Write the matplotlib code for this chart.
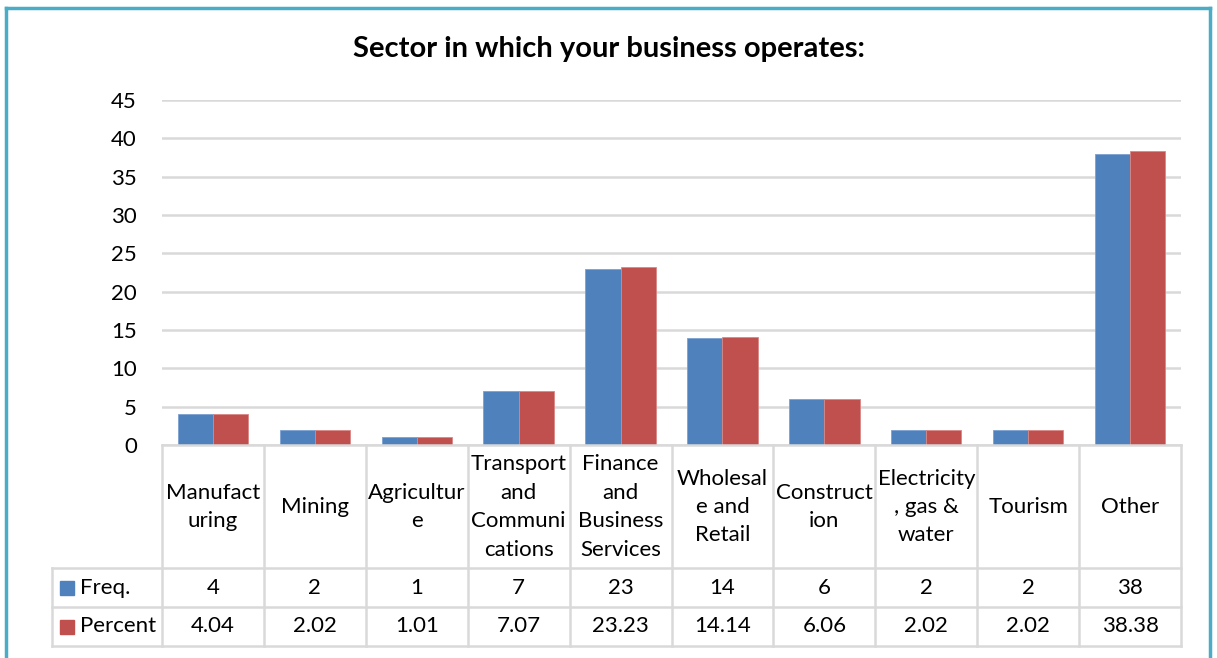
import matplotlib.pyplot as plt
import numpy as np
from matplotlib.patches import Rectangle

# Sector breakdown with data table underneath
sectors = ["Manufact\nuring", "Mining", "Agricultur\ne", "Transport\nand\nCommuni\ncations",
           "Finance\nand\nBusiness\nServices", "Wholesal\ne and\nRetail", "Construct\nion",
           "Electricity\n, gas &\nwater", "Tourism", "Other"]
freq = [4, 2, 1, 7, 23, 14, 6, 2, 2, 38]
percent = [4.04, 2.02, 1.01, 7.07, 23.23, 14.14, 6.06, 2.02, 2.02, 38.38]
freq_labels = ["4", "2", "1", "7", "23", "14", "6", "2", "2", "38"]
percent_labels = ["4.04", "2.02", "1.01", "7.07", "23.23", "14.14", "6.06", "2.02", "2.02", "38.38"]
series_names = ["Freq.", "Percent"]
yticks = [0, 5, 10, 15, 20, 25, 30, 35, 40, 45]

BLUE = "#4F81BD"
RED = "#C0504D"
GRID = "#D9D9D9"
FONT = "Lato"
FS = 16

W, H = 1217, 658
fig = plt.figure(figsize=(W / 100, H / 100), dpi=100)
plt.rcParams['font.family'] = [FONT, 'DejaVu Sans']

# plot area in pixels: x 162..1181, y 100..445
ax = fig.add_axes([162 / W, 1 - 445 / H, (1181 - 162) / W, (445 - 100) / H])
x = np.arange(len(sectors))
bw = 0.345
ax.bar(x - bw / 2, freq, bw, color=BLUE, edgecolor="#7BA0D0", linewidth=0.6, zorder=3)
ax.bar(x + bw / 2, percent, bw, color=RED, edgecolor="#D98785", linewidth=0.6, zorder=3)
ax.set_xlim(-0.5, len(sectors) - 0.5)
ax.set_ylim(0, 45)
ax.set_yticks(yticks)
ax.set_yticklabels([str(t) for t in yticks], fontsize=FS)
ax.tick_params(axis="y", length=0, pad=18)
ax.set_xticks([])
ax.yaxis.grid(True, color=GRID, linewidth=1.8, zorder=0)
for s in ax.spines.values():
    s.set_visible(False)

# data table below the plot, y in pixel rows
tab = fig.add_axes([52 / W, 1 - 646 / H, (1181 - 52) / W, (646 - 445) / H])
cw = 101.9
px2x = lambda px: (px - 162) / cw - 0.5
tab.set_xlim(px2x(52), len(sectors) - 0.5)
tab.set_ylim(646, 445)
tab.axis("off")
lw = 1.8
tab.plot([-0.5, len(sectors) - 0.5], [445, 445], color=GRID, lw=lw, clip_on=False)
for yy in (568, 607, 646):
    tab.plot([px2x(52), len(sectors) - 0.5], [yy, yy], color=GRID, lw=lw, clip_on=False)
for i in range(len(sectors) + 1):
    tab.plot([i - 0.5, i - 0.5], [445, 646], color=GRID, lw=lw, clip_on=False)
tab.plot([px2x(52), px2x(52)], [568, 646], color=GRID, lw=lw, clip_on=False)

for i, lab in enumerate(sectors):
    tab.text(i, 507, lab, ha="center", va="center", fontsize=FS, linespacing=1.53)
    tab.text(i, 587.5, freq_labels[i], ha="center", va="center", fontsize=FS)
    tab.text(i, 626.5, percent_labels[i], ha="center", va="center", fontsize=FS)

for yy, name, col in ((587.5, series_names[0], BLUE), (626.5, series_names[1], RED)):
    tab.add_patch(Rectangle((px2x(60), yy - 7), 14 / cw, 14, color=col, clip_on=False))
    tab.text(px2x(80), yy, name, ha="left", va="center", fontsize=FS)

fig.text(609 / W, 1 - 49 / H, "Sector in which your business operates:", ha="center",
         va="center", fontsize=21, fontweight="bold")

# light blue chart border
border = "#4BACC6"
fig.add_artist(plt.Line2D([6 / W, 6 / W], [0, 1 - 8 / H], color=border, lw=2.5))
fig.add_artist(plt.Line2D([6 / W, 1210 / W], [1 - 8 / H, 1 - 8 / H], color=border, lw=2.5))
fig.add_artist(plt.Line2D([1210 / W, 1210 / W], [0, 1 - 8 / H], color=border, lw=2.5))

fig.savefig("out.png", dpi=100)
